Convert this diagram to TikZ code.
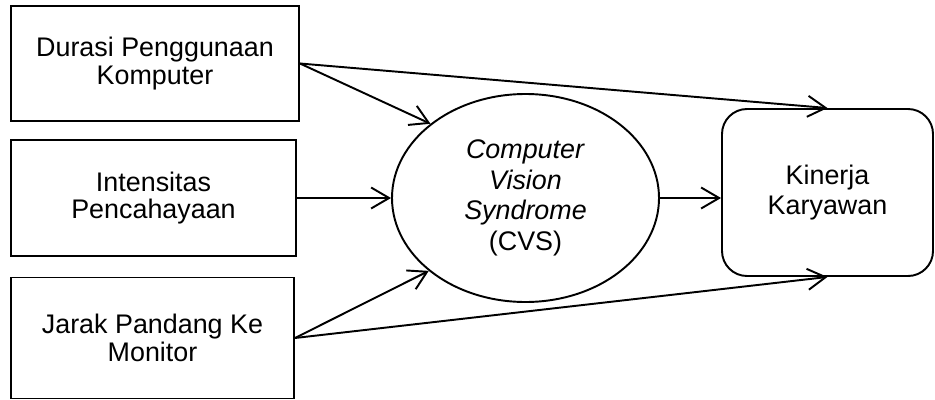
\documentclass[tikz,border=0pt]{standalone}
\usepackage{fontspec}
\setmainfont{Liberation Sans}
\usetikzlibrary{arrows.meta,shapes.geometric}
\tikzset{
  vbox/.style={draw,line width=1.1pt,align=center,inner sep=0pt,font=\fontsize{15.3}{15.8}\selectfont},
  vell/.style={draw,ellipse,line width=1.1pt,align=center,inner sep=0pt,minimum width=267*0.02cm,minimum height=208*0.02cm,font=\fontsize{15.3}{17.4}\selectfont},
  varr/.style={line width=1.1pt,-{Straight Barb[length=3.6mm,width=4.2mm,line width=1.1pt]}},
}
\begin{document}
\begin{tikzpicture}[x=0.02cm,y=-0.02cm]
\useasboundingbox (0,0) rectangle (935,399);
% the three causes on the left
\node[vbox,minimum width=288*0.02cm,minimum height=115*0.02cm] (dur) at (155,63.5) {Durasi Penggunaan\\Komputer};
\node[vbox,minimum width=285*0.02cm,minimum height=116*0.02cm] (int) at (153.5,198) {Intensitas\\Pencahayaan};
\node[vbox,minimum width=283*0.02cm,minimum height=121*0.02cm] (jar) at (152.5,338) {Jarak Pandang Ke\\Monitor};
% mediator and outcome
\node[vell] (cvs) at (525.5,198) {\textit{Computer}\\\textit{Vision}\\\textit{Syndrome}\\(CVS)};
\node[vbox,rounded corners=0.5cm,minimum width=211*0.02cm,minimum height=167*0.02cm,font=\fontsize{15.3}{17}\selectfont] (kin) at (827.5,192.5) {Kinerja\\Karyawan};
% paths
\draw[varr] (dur.east) -- (cvs.142);
\draw[varr] (int.east) -- (int.east -| cvs.west);
\draw[varr] (jar.east) -- (cvs.217);
\draw[varr] (cvs.east) -- (cvs.east -| kin.west);
\draw[varr] (dur.east) -- (kin.north);
\draw[varr] (jar.east) -- (kin.south);
\end{tikzpicture}
\end{document}
